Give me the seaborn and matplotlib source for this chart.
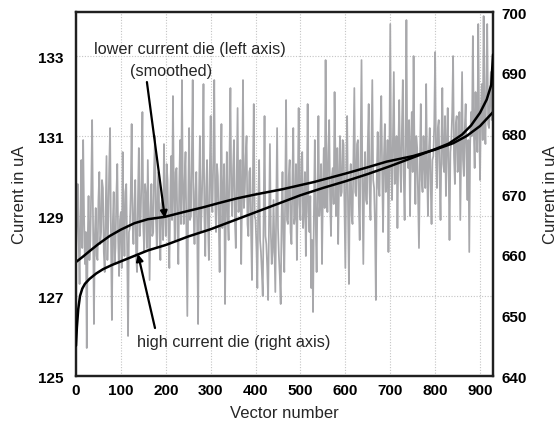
import numpy as np
import pandas as pd
import matplotlib
matplotlib.use("Agg")
import matplotlib.pyplot as plt
import seaborn as sns

# raw current of the lower current die, one reading every 2 vectors (left axis)
raw_step = 2
raw_current = [
    128.1, 128.9, 129.8, 128.4, 127.3, 129.1, 130.4, 128.2, 130.9, 129.0,
    127.8, 128.6, 125.7, 128.3, 129.5, 127.9, 128.4, 129.7, 131.4, 128.7,
    126.3, 128.5, 129.2, 128.0, 127.9, 129.4, 130.1, 128.3, 128.6, 129.9,
    129.7, 128.1, 127.6, 129.0, 130.5, 127.9, 128.9, 130.2, 131.2, 128.4,
    126.4, 128.8, 129.6, 127.8, 128.2, 129.5, 130.3, 128.4, 127.5, 128.9,
    129.1, 127.7, 130.6, 129.0, 128.0, 129.6, 129.8, 128.2, 126.0, 128.6,
    128.7, 129.6, 131.3, 128.8, 128.3, 129.2, 129.9, 128.0, 127.6, 129.4,
    130.7, 128.5, 128.9, 130.0, 131.6, 128.7, 128.1, 129.8, 129.5, 128.2,
    130.4, 128.9, 127.4, 129.1, 129.8, 128.5, 128.6, 130.2, 131.0, 129.0,
    128.2, 129.7, 130.1, 128.6, 127.9, 129.3, 129.4, 128.4, 130.8, 129.2,
    128.5, 130.3, 129.9, 128.6, 127.7, 129.5, 130.5, 128.9, 132.0, 129.6,
    128.4, 130.1, 130.2, 128.7, 127.8, 129.8, 130.9, 128.8, 132.4, 129.7,
    128.8, 129.9, 130.6, 128.5, 126.5, 129.4, 131.2, 128.9, 129.0, 130.4,
    132.4, 129.1, 128.3, 129.6, 130.1, 128.7, 126.3, 129.5, 131.0, 128.6,
    129.2, 130.2, 132.3, 129.0, 128.0, 129.7, 130.4, 128.8, 127.9, 130.1,
    131.5, 129.3, 129.1, 130.6, 132.4, 129.4, 128.6, 130.3, 130.0, 128.9,
    127.6, 129.8, 131.3, 128.7, 129.4, 130.3, 126.8, 129.2, 130.6, 129.0,
    128.4, 130.5, 132.2, 129.5, 129.0, 130.2, 130.9, 128.9, 128.2, 130.0,
    131.7, 129.1, 129.3, 130.4, 127.8, 129.6, 132.4, 129.2, 129.6, 130.5,
    131.0, 128.8, 128.5, 130.1, 130.2, 128.6, 127.4, 129.9, 131.8, 129.0,
    128.9, 128.2, 127.2, 129.3, 130.4, 128.4, 128.1, 127.6, 127.0, 129.0,
    131.5, 128.5, 128.3, 127.7, 126.9, 128.8, 130.8, 128.6, 127.8, 128.1,
    129.4, 128.3, 127.1, 129.2, 131.2, 128.7, 128.0, 127.5, 126.8, 129.0,
    130.1, 128.4, 127.6, 129.5, 131.9, 128.9, 128.8, 130.0, 130.4, 128.6,
    128.3, 129.9, 131.2, 128.8, 129.0, 130.3, 127.9, 129.6, 131.7, 129.3,
    128.9, 130.4, 130.6, 128.7, 129.2, 130.1, 128.0, 129.4, 131.8, 129.1,
    128.6, 129.5, 127.2, 128.4, 126.6, 129.1, 130.9, 128.8, 127.6, 129.7,
    131.5, 129.0, 129.4, 130.3, 127.8, 129.6, 130.7, 129.2, 132.9, 130.0,
    129.1, 130.6, 131.4, 129.4, 128.5, 130.0, 130.2, 129.3, 132.1, 130.4,
    129.0, 130.7, 128.3, 129.9, 131.0, 129.5, 129.6, 130.9, 130.8, 129.2,
    127.7, 130.2, 131.5, 129.1, 127.3, 129.8, 130.3, 129.0, 128.8, 130.5,
    132.2, 129.6, 129.5, 130.8, 130.9, 129.3, 128.4, 130.6, 132.9, 129.8,
    127.8, 129.9, 130.6, 129.4, 129.3, 130.8, 131.8, 129.6, 128.9, 130.7,
    132.4, 129.9, 129.7, 128.8, 126.9, 130.0, 131.1, 129.7, 129.5, 131.0,
    132.0, 130.1, 128.6, 130.5, 131.3, 129.6, 129.8, 130.9, 128.1, 130.4,
    133.8, 130.2, 129.4, 131.1, 132.6, 129.8, 130.0, 131.0, 128.7, 130.6,
    131.9, 130.3, 129.6, 131.2, 132.4, 130.0, 128.9, 130.8, 133.9, 130.5,
    130.2, 131.4, 129.0, 130.7, 131.6, 130.1, 133.0, 130.6, 129.3, 131.0,
    130.7, 129.5, 128.2, 130.3, 131.8, 129.9, 129.6, 131.0, 130.4, 129.7,
    132.3, 130.2, 129.0, 130.6, 131.2, 129.8, 128.8, 130.4, 130.5, 131.3,
    133.1, 130.4, 129.7, 131.2, 131.4, 130.0, 128.9, 130.8, 132.2, 130.3,
    130.1, 131.5, 129.5, 130.7, 131.7, 130.2, 128.4, 130.6, 130.9, 131.6,
    133.0, 130.5, 129.8, 131.3, 131.5, 130.1, 130.3, 131.6, 128.9, 130.7,
    132.6, 130.4, 130.0, 131.2, 131.8, 130.3, 129.4, 130.9, 128.1, 130.8,
    131.6, 131.0, 133.5, 131.2, 130.2, 132.1, 131.1, 130.6, 133.8, 131.4,
    129.9, 131.7, 132.3, 130.9, 134.0, 131.5, 130.8, 132.4, 133.8, 131.3,
    131.2, 131.9, 132.6, 131.4, 131.5,
]

# smoothed lower current die (left axis)
low_x = [0, 15, 30, 50, 75, 100, 130, 160, 198, 240, 284, 320, 358, 400, 460,
         530, 603, 650, 692, 751, 800, 840, 870, 900, 929]
low_y = [127.85, 127.98, 128.12, 128.3, 128.5, 128.66, 128.82, 128.92, 128.98,
         129.1, 129.22, 129.33, 129.44, 129.54, 129.67, 129.85, 130.07, 130.22,
         130.36, 130.5, 130.66, 130.82, 131.0, 131.25, 131.6]

# high current die (right axis)
high_x = [0, 2, 5, 9, 14, 20, 30, 45, 60, 80, 100, 130, 160, 200, 250, 300,
          350, 400, 450, 500, 550, 600, 650, 700, 750, 800, 830, 860, 880, 900,
          915, 925, 929]
high_y = [645, 648, 651, 653.2, 654.4, 655.2, 656.0, 656.9, 657.6, 658.3, 658.9,
          659.8, 660.7, 661.6, 663.0, 664.2, 665.6, 667.0, 668.4, 669.8, 671.0,
          672.1, 673.3, 674.6, 676.0, 677.4, 678.3, 679.8, 681.3, 683.4, 685.6,
          688.0, 693.0]

left_ticks = [125, 127, 129, 131, 133]
right_ticks = [640, 650, 660, 670, 680, 690, 700]
x_ticks = [0, 100, 200, 300, 400, 500, 600, 700, 800, 900]

sns.set_theme(style="white")
plt.rcParams['font.family'] = ['Liberation Sans', 'DejaVu Sans']

raw_df = pd.DataFrame({
    'vector': np.arange(len(raw_current)) * raw_step,
    'current': raw_current,
})
low_df = pd.DataFrame({'vector': low_x, 'current': low_y})
high_df = pd.DataFrame({'vector': high_x, 'current': high_y})

fig = plt.figure(figsize=(5.57, 4.35), dpi=100)
ax = fig.add_axes([0.1364, 0.1333, 0.7488, 0.8367])
ax2 = ax.twinx()

# dotted grid behind the data
for xv in x_ticks[1:]:
    ax.axvline(xv, color='#c4c4c4', linestyle=(0, (1, 1.5)), linewidth=0.8, zorder=0)
for yv in left_ticks[1:]:
    ax.axhline(yv, color='#c4c4c4', linestyle=(0, (1, 1.5)), linewidth=0.8, zorder=0)

sns.lineplot(data=raw_df, x='vector', y='current', ax=ax, color='#a8a8ab',
             linewidth=1.25, zorder=2)
sns.lineplot(data=low_df, x='vector', y='current', ax=ax, color='black',
             linewidth=1.8, zorder=3)
sns.lineplot(data=high_df, x='vector', y='current', ax=ax2, color='black',
             linewidth=1.8, zorder=3)

ax.set_xlim(0, 929)
ax.set_ylim(125, 134.1)
ax2.set_ylim(640, 700)
ax.set_xticks(x_ticks)
ax.set_yticks(left_ticks)
ax2.set_yticks(right_ticks)

for a in (ax, ax2):
    a.tick_params(length=0, labelsize=11, colors='black')
    for lab in a.get_xticklabels() + a.get_yticklabels():
        lab.set_fontweight('bold')
    for sp in a.spines.values():
        sp.set_color('#202020')
        sp.set_linewidth(1.6)
ax.tick_params(axis='y', pad=9)
ax.tick_params(axis='x', pad=5)
ax2.tick_params(axis='y', pad=6)

ax.set_xlabel('Vector number', fontsize=12, labelpad=6)
ax.set_ylabel('Current in uA', fontsize=12, labelpad=8)
ax2.set_ylabel('Current in uA', fontsize=12, labelpad=12, rotation=90)

arrow = dict(arrowstyle='-|>', color='black', lw=1.6, mutation_scale=10,
             shrinkA=0, shrinkB=0)
ax.annotate('', xy=(198, 128.95), xytext=(158, 132.35), arrowprops=arrow, zorder=5)
ax.annotate('', xy=(138, 128.05), xytext=(176, 126.2), arrowprops=arrow, zorder=5)
ax.text(40, 133.2, 'lower current die (left axis)', fontsize=11.7, va='center', ha='left')
ax.text(120, 132.65, '(smoothed)', fontsize=11.7, va='center', ha='left')
ax.text(136, 125.87, 'high current die (right axis)', fontsize=11.7, va='center', ha='left')

fig.savefig('out.png', dpi=100)
